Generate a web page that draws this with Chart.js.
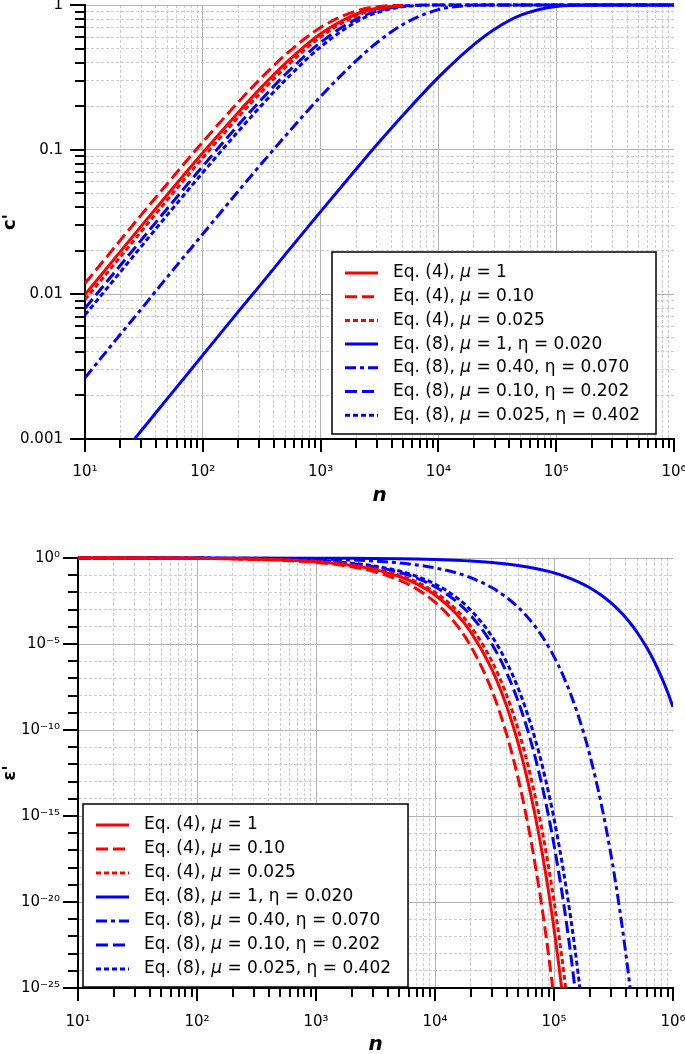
<!DOCTYPE html>
<html>
<head>
<meta charset="utf-8">
<script src="https://cdn.jsdelivr.net/npm/chart.js@4/dist/chart.umd.min.js"></script>
<style>
  html, body { margin: 0; padding: 0; background: #fff; }
  #wrap { position: relative; width: 685px; height: 1054px; overflow: hidden; }
  canvas { position: absolute; left: 0; display: block; }
</style>
</head>
<body>
<div id="wrap">
  <canvas id="chart-c" width="685" height="510" style="top:0"></canvas>
  <canvas id="chart-eps" width="685" height="544" style="top:510px"></canvas>
</div>
<script>
const SERIES_LABELS = [
  'Eq. (4), μ = 1',
  'Eq. (4), μ = 0.10',
  'Eq. (4), μ = 0.025',
  'Eq. (8), μ = 1, η = 0.020',
  'Eq. (8), μ = 0.40, η = 0.070',
  'Eq. (8), μ = 0.10, η = 0.202',
  'Eq. (8), μ = 0.025, η = 0.402',
];

// upper panel: c' against n
const N_TOP = [10, 20, 30, 50, 100, 200, 300, 500, 1e3, 2e3, 3e3, 5e3, 1e4, 2e4, 3e4, 5e4, 1e5, 2e5, 3e5, 5e5, 1e6];
const C_EQ4_MU1 = [0.00995, 0.0198, 0.0296, 0.0488, 0.0952, 0.181, 0.259, 0.393, 0.632, 0.865, 0.950, 0.993];
const C_EQ4_MU010 = [0.0119, 0.0237, 0.0354, 0.0582, 0.113, 0.213, 0.302, 0.451, 0.699, 0.909, 0.973, 0.9975];
const C_EQ4_MU0025 = [0.0092, 0.0182, 0.0272, 0.0450, 0.0879, 0.168, 0.241, 0.369, 0.601, 0.841, 0.937, 0.990];
const C_EQ8_MU1 = [0.00038, 0.00076, 0.00114, 0.0019, 0.0038, 0.0076, 0.0113, 0.0188, 0.0373, 0.0732, 0.108, 0.173, 0.316, 0.532, 0.680, 0.850, 0.978, 0.9995, 1, 1, 1];
const C_EQ8_MU040 = [0.00265, 0.0053, 0.0079, 0.0132, 0.0261, 0.0516, 0.0764, 0.124, 0.233, 0.411, 0.548, 0.734, 0.929, 0.995, 1, 1, 1, 1, 1, 1, 1];
const C_EQ8_MU010 = [0.0080, 0.0159, 0.0237, 0.0392, 0.0769, 0.148, 0.213, 0.330, 0.551, 0.798, 0.909, 0.982, 0.9997, 1, 1, 1, 1, 1, 1, 1, 1];
const C_EQ8_MU0025 = [0.0072, 0.0143, 0.0214, 0.0354, 0.0695, 0.134, 0.194, 0.302, 0.513, 0.763, 0.885, 0.973, 0.9993, 1, 1, 1, 1, 1, 1, 1, 1];

// lower panel: eps' against n
const N_BOT = [10, 100, 1e3, 2e3, 3e3, 5e3, 7e3, 1e4, 1.5e4, 2e4, 3e4, 4e4, 5e4, 6e4, 7e4, 8e4, 9e4, 1e5, 1.2e5, 1.4e5, 1.6e5, 1.8e5, 2e5, 2.5e5, 3e5, 3.5e5, 4e5, 4.5e5, 5e5, 6e5, 7e5, 8e5, 9e5, 1e6];
const E_EQ4_MU1 = [0.995, 0.9515, 0.609, 0.371, 0.226, 0.0837, 0.0310, 7.0e-3, 5.86e-4, 4.9e-5, 3.43e-7, 2.4e-9, 1.68e-11, 1.17e-13, 8.2e-16, 5.75e-18, 4.0e-20, 2.8e-22, 1.4e-26, 6.8e-31];
const E_EQ4_MU010 = [0.994, 0.943, 0.554, 0.307, 0.170, 0.0522, 0.0160, 2.73e-3, 1.43e-4, 7.45e-6, 2.03e-8, 5.5e-11, 1.5e-13, 4.1e-16, 1.1e-18, 3.1e-21, 8.4e-24, 2.3e-26, 1.6e-31];
const E_EQ4_MU0025 = [0.9954, 0.955, 0.632, 0.399, 0.252, 0.1007, 0.0402, 0.0101, 1.02e-3, 1.03e-4, 1.04e-6, 1.06e-8, 1.07e-10, 1.09e-12, 1.10e-14, 1.12e-16, 1.13e-18, 1.15e-20, 1.18e-24, 1.2e-28];
const E_EQ8_MU1 = [1.0, 0.998, 0.980, 0.9609, 0.9419, 0.9052, 0.8698, 0.819, 0.7413, 0.671, 0.5497, 0.4503, 0.369, 0.302, 0.2475, 0.2028, 0.1662, 0.136, 0.0913, 0.0613, 0.0411, 0.0276, 0.0185, 6.84e-3, 2.52e-3, 9.3e-4, 3.44e-4, 1.27e-4, 4.68e-5, 6.37e-6, 8.67e-7, 1.18e-7, 1.61e-8, 2.19e-9];
const E_EQ8_MU040 = [0.9987, 0.9869, 0.8764, 0.768, 0.673, 0.517, 0.397, 0.267, 0.138, 0.0715, 0.0191, 5.1e-3, 1.36e-3, 3.65e-4, 9.75e-5, 2.6e-5, 6.97e-6, 1.86e-6, 1.33e-7, 9.5e-9, 6.8e-10, 4.9e-11, 3.47e-12, 4.7e-15, 6.5e-18, 8.8e-21, 1.2e-23, 1.64e-26, 2.2e-29];
const E_EQ8_MU010 = [0.9962, 0.9623, 0.681, 0.464, 0.316, 0.1467, 0.0681, 0.0215, 3.16e-3, 4.63e-4, 1.0e-5, 2.15e-7, 4.6e-9, 1.0e-10, 2.14e-12, 4.6e-14, 1.0e-15, 2.14e-17, 1.0e-20, 4.6e-24, 2.1e-27];
const E_EQ8_MU0025 = [0.9965, 0.9657, 0.7055, 0.4977, 0.3511, 0.1748, 0.0870, 0.0305, 5.34e-3, 9.33e-4, 2.85e-5, 8.7e-7, 2.66e-8, 8.1e-10, 2.48e-11, 7.6e-13, 2.3e-14, 7.1e-16, 6.6e-19, 6.2e-22, 5.8e-25, 5.4e-28];

const X_TICK_EXP = [1, 2, 3, 4, 5, 6];
const X_TICK_LABELS = ['10¹', '10²', '10³', '10⁴', '10⁵', '10⁶'];
const C_TICK_EXP = [-3, -2, -1, 0];
const C_TICK_LABELS = ['0.001', '0.01', '0.1', '1'];
const EPS_TICK_EXP = [-25, -20, -15, -10, -5, 0];
const EPS_TICK_LABELS = ['10⁻²⁵', '10⁻²⁰', '10⁻¹⁵', '10⁻¹⁰', '10⁻⁵', '10⁰'];

const RED = '#ff0000';
const BLUE = '#0000ff';
const LINE_STYLES = [
  { color: RED, dash: [] },
  { color: RED, dash: [12, 5] },
  { color: RED, dash: [5, 3] },
  { color: BLUE, dash: [] },
  { color: BLUE, dash: [11, 4, 4, 4] },
  { color: BLUE, dash: [12, 5] },
  { color: BLUE, dash: [5, 3] },
];
const FONT = '"DejaVu Sans", Verdana, sans-serif';

function expOf(v) {
  return Math.round(Math.log10(v));
}

function isDecade(v) {
  const l = Math.log10(v);
  return Math.abs(l - Math.round(l)) < 1e-6;
}

function logTicks(minExp, maxExp, withMinor) {
  const out = [];
  for (let e = minExp; e < maxExp; e++) {
    const steps = withMinor ? [1, 2, 3, 4, 5, 6, 7, 8, 9] : [1];
    steps.forEach((m) => out.push({ value: m * Math.pow(10, e) }));
  }
  out.push({ value: Math.pow(10, maxExp) });
  return out;
}

function series(xs, ys, i) {
  return {
    label: SERIES_LABELS[i],
    data: ys.map((y, k) => ({ x: xs[k], y })),
    borderColor: LINE_STYLES[i].color,
    borderDash: LINE_STYLES[i].dash,
    borderWidth: 3,
    pointRadius: 0,
    fill: false,
    cubicInterpolationMode: 'monotone',
    clip: { left: 0, top: 4, right: 0, bottom: 0 },
  };
}

function gridFor(isMajor, hidden) {
  return {
    grid: {
      drawTicks: false,
      lineWidth: 1,
      color: (ctx) => {
        if (!ctx.tick || hidden(ctx.tick.value)) return 'rgba(0,0,0,0)';
        return isMajor(ctx.tick.value) ? '#b2b2b2' : '#cfcfcf';
      },
    },
    border: {
      display: true,
      color: '#000',
      width: 2,
      dash: (ctx) => (ctx.tick && !isMajor(ctx.tick.value) ? [3, 2] : []),
    },
  };
}

const tickMarks = {
  id: 'tickMarks',
  afterDraw(chart, args, opts) {
    const { ctx, chartArea, scales } = chart;
    ctx.save();
    ctx.strokeStyle = '#000';
    ctx.lineWidth = 2;
    ctx.beginPath();
    scales.x.ticks.forEach((t) => {
      const px = Math.round(scales.x.getPixelForValue(t.value));
      const len = opts.xMajor(t.value) ? 13 : 9;
      ctx.moveTo(px, chartArea.bottom);
      ctx.lineTo(px, chartArea.bottom + len);
    });
    scales.y.ticks.forEach((t) => {
      const py = Math.round(scales.y.getPixelForValue(t.value));
      const len = opts.yMajor(t.value) ? 15 : 10;
      ctx.moveTo(chartArea.left, py);
      ctx.lineTo(chartArea.left - len, py);
    });
    ctx.stroke();
    ctx.restore();
  },
};

function drawRich(ctx, text, x, y) {
  ctx.textBaseline = 'middle';
  ctx.textAlign = 'left';
  ctx.fillStyle = '#000';
  text.split(/(μ)/).forEach((part) => {
    if (!part) return;
    ctx.font = (part === 'μ' ? 'italic ' : '') + '17px ' + FONT;
    ctx.fillText(part, x, y);
    x += ctx.measureText(part).width;
  });
}

const boxLegend = {
  id: 'boxLegend',
  afterDraw(chart, args, opts) {
    const { ctx } = chart;
    ctx.save();
    ctx.fillStyle = '#fff';
    ctx.fillRect(opts.left, opts.top, opts.width, opts.height);
    ctx.strokeStyle = '#000';
    ctx.lineWidth = 1.5;
    ctx.strokeRect(opts.left, opts.top, opts.width, opts.height);
    chart.data.datasets.forEach((ds, i) => {
      const y = opts.top + 21 + i * opts.rowGap;
      ctx.beginPath();
      ctx.setLineDash(ds.borderDash || []);
      ctx.lineWidth = 3;
      ctx.strokeStyle = ds.borderColor;
      ctx.moveTo(opts.left + 13, y);
      ctx.lineTo(opts.left + 46, y);
      ctx.stroke();
      ctx.setLineDash([]);
      drawRich(ctx, ds.label, opts.left + 61, y);
    });
    ctx.restore();
  },
};

function fixScale(size, prop) {
  return (scale) => {
    scale[prop] = size;
    scale.paddingLeft = 0;
    scale.paddingRight = 0;
    scale.paddingTop = 0;
    scale.paddingBottom = 0;
  };
}

function xScale(axisHeight, labelPad, titlePad) {
  return {
    type: 'logarithmic',
    min: 10,
    max: 1e6,
    afterBuildTicks: (scale) => { scale.ticks = logTicks(1, 6, true); },
    afterFit: fixScale(axisHeight, 'height'),
    ticks: {
      autoSkip: false,
      maxRotation: 0,
      minRotation: 0,
      padding: labelPad,
      color: '#000',
      font: { family: FONT, size: 15 },
      callback: (v) => {
        const i = X_TICK_EXP.indexOf(expOf(v));
        return isDecade(v) && i >= 0 ? X_TICK_LABELS[i] : '';
      },
    },
    title: {
      display: true,
      text: 'n',
      color: '#000',
      font: { family: FONT, size: 20, weight: 'bold', style: 'italic', lineHeight: 1 },
      padding: { top: 0, bottom: titlePad },
    },
    ...gridFor(isDecade, (v) => v >= 1e6 * 0.999),
  };
}

function buildChart(canvasId, cfg) {
  return new Chart(document.getElementById(canvasId), {
    type: 'line',
    data: { datasets: cfg.datasets },
    options: {
      responsive: false,
      animation: false,
      events: [],
      layout: { padding: cfg.padding },
      plugins: {
        legend: { display: false },
        tooltip: { enabled: false },
        tickMarks: cfg.tickMarks,
        boxLegend: cfg.legend,
      },
      scales: { x: cfg.x, y: cfg.y },
    },
    plugins: [tickMarks, boxLegend],
  });
}

buildChart('chart-c', {
  datasets: [
    series(N_TOP, C_EQ4_MU1, 0),
    series(N_TOP, C_EQ4_MU010, 1),
    series(N_TOP, C_EQ4_MU0025, 2),
    series(N_TOP, C_EQ8_MU1, 3),
    series(N_TOP, C_EQ8_MU040, 4),
    series(N_TOP, C_EQ8_MU010, 5),
    series(N_TOP, C_EQ8_MU0025, 6),
  ],
  padding: { top: 5, right: 11, left: 0, bottom: 0 },
  tickMarks: { xMajor: isDecade, yMajor: isDecade },
  legend: { left: 332, top: 252, width: 324, height: 182, rowGap: 23.7 },
  x: xScale(71, 24, 4),
  y: {
    type: 'logarithmic',
    min: 0.001,
    max: 1,
    afterBuildTicks: (scale) => { scale.ticks = logTicks(-3, 0, true); },
    afterFit: fixScale(85, 'width'),
    ticks: {
      autoSkip: false,
      padding: 22,
      color: '#000',
      font: { family: FONT, size: 15 },
      callback: (v) => {
        const i = C_TICK_EXP.indexOf(expOf(v));
        return isDecade(v) && i >= 0 ? C_TICK_LABELS[i] : '';
      },
    },
    title: {
      display: true,
      text: "c'",
      color: '#000',
      font: { family: FONT, size: 18, weight: 'bold', lineHeight: 1.1 },
      padding: { top: 0, bottom: 0 },
    },
    ...gridFor(isDecade, () => false),
  },
});

const isFifthDecade = (v) => expOf(v) % 5 === 0;

buildChart('chart-eps', {
  datasets: [
    series(N_BOT, E_EQ4_MU1, 0),
    series(N_BOT, E_EQ4_MU010, 1),
    series(N_BOT, E_EQ4_MU0025, 2),
    series(N_BOT, E_EQ8_MU1, 3),
    series(N_BOT, E_EQ8_MU040, 4),
    series(N_BOT, E_EQ8_MU010, 5),
    series(N_BOT, E_EQ8_MU0025, 6),
  ],
  padding: { top: 48, right: 12, left: 0, bottom: 0 },
  tickMarks: { xMajor: isDecade, yMajor: isFifthDecade },
  legend: { left: 83, top: 294, width: 325, height: 183, rowGap: 24 },
  x: xScale(66, 25, -1),
  y: {
    type: 'logarithmic',
    min: 1e-25,
    max: 1,
    afterBuildTicks: (scale) => { scale.ticks = logTicks(-25, 0, false); },
    afterFit: fixScale(78, 'width'),
    ticks: {
      autoSkip: false,
      padding: 18,
      color: '#000',
      font: { family: FONT, size: 15 },
      callback: (v) => {
        const i = EPS_TICK_EXP.indexOf(expOf(v));
        return i >= 0 ? EPS_TICK_LABELS[i] : '';
      },
    },
    title: {
      display: true,
      text: "ε'",
      color: '#000',
      font: { family: FONT, size: 18, weight: 'bold', lineHeight: 1.1 },
      padding: { top: 0, bottom: 0 },
    },
    ...gridFor(isFifthDecade, () => false),
  },
});
</script>
</body>
</html>
